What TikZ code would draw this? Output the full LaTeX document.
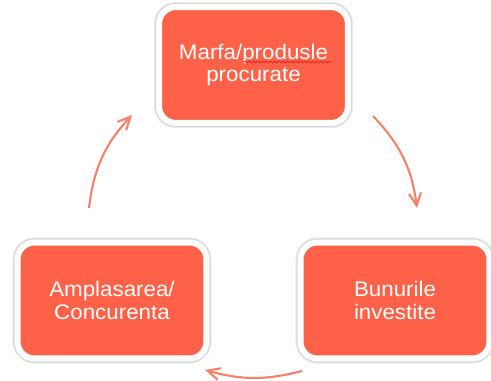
\documentclass[tikz,border=0pt]{standalone}
\usepackage{fontspec}
\setmainfont[FakeStretch=1.06]{Liberation Sans}
\usetikzlibrary{arrows.meta, decorations.pathmorphing}
\definecolor{boxred}{HTML}{FD6249}
\definecolor{arrowsalmon}{HTML}{F7806A}
\definecolor{spellred}{HTML}{E8231F}

\begin{document}
\begin{tikzpicture}[x=0.02cm, y=-0.02cm,
        box/.style={draw=white, line width=0.12cm, fill=boxred, rounded corners=0.34cm,
                    minimum width=3.78cm, minimum height=2.32cm, align=center,
                    text=white, font=\fontsize{12}{12.9}\selectfont,
                    preaction={draw=black!7, line width=0.21cm},
                    preaction={draw=black!15, line width=0.17cm}},
        arr/.style={-{Straight Barb[length=2.5mm, width=2.4mm]}, line width=1.2pt, arrowsalmon},
        spell/.style={spellred, line width=0.5pt, decorate,
                      decoration={snake, amplitude=0.5pt, segment length=2.4pt}}
    ]
    \useasboundingbox (0,0) rectangle (491,381);

    % cycle boxes
    \node[box] (marfa) at (253.5, 65) {Marfa/produsle\\procurate};
    \node[box] (bunuri) at (395, 300.5) {Bunurile\\investite};
    \node[box] (amplas) at (112, 300.5) {Amplasarea/\\Concurenta};

    % spell-check mark under the typo
    \draw[spell] ([shift={(-9.5,-3)}]marfa.center) -- ([shift={(79.5,-3)}]marfa.center);

    % arrow ends
    \coordinate (tr1) at (373, 116);
    \coordinate (tr2) at (417, 208);
    \coordinate (rl1) at (302, 371);
    \coordinate (rl2) at (205, 370);
    \coordinate (lt1) at (89, 208);
    \coordinate (lt2) at (132, 115);

    \draw[arr] (tr1) to[bend left=18] (tr2);
    \draw[arr] (rl1) to[bend left=15] (rl2);
    \draw[arr] (lt1) to[bend left=18] (lt2);
\end{tikzpicture}
\end{document}
